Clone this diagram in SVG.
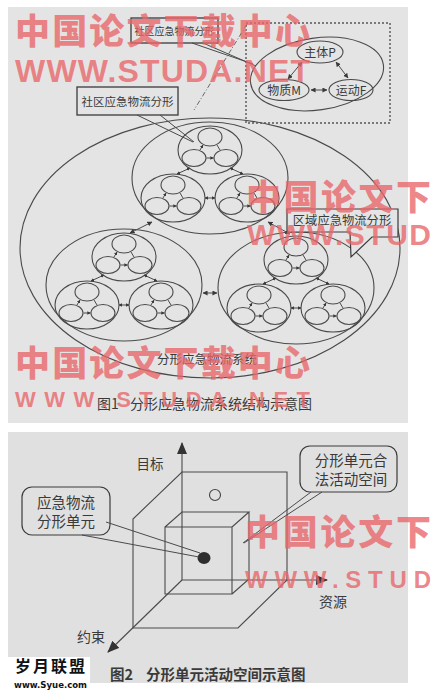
<svg xmlns="http://www.w3.org/2000/svg" width="431" height="695" viewBox="0 0 431 695">
<style>
.ln{fill:none;stroke:#4a4a4a;stroke-width:1.1}
.cn{fill:none;stroke:#4a4a4a;stroke-width:1}
.t{font-family:"Noto Sans CJK SC","Liberation Sans",sans-serif;fill:#3a3a3a}
.wm{font-family:"Noto Sans CJK SC","Liberation Sans",sans-serif;font-weight:900;fill:#e8666a;fill-opacity:0.78}
.wme{font-family:"Liberation Sans","DejaVu Sans",sans-serif;font-weight:bold;fill:#e8666a;fill-opacity:0.78}
</style>
<defs>
<marker id="sa" viewBox="0 0 6 6" refX="5.5" refY="3" markerWidth="3.5" markerHeight="3.5" orient="auto-start-reverse"><path d="M0,0L6,3L0,6z" fill="#3a3a3a"/></marker>
<marker id="ma" viewBox="0 0 6 6" refX="5.5" refY="3" markerWidth="5" markerHeight="5" orient="auto-start-reverse"><path d="M0,0L6,3L0,6z" fill="#3a3a3a"/></marker>
<marker id="big" viewBox="0 0 12 10" refX="11" refY="5" markerUnits="userSpaceOnUse" markerWidth="12" markerHeight="10" orient="auto"><path d="M0,0L12,5L0,10z" fill="#333"/></marker>
<g id="comm">
<ellipse class="ln" rx="32" ry="24"/>
<ellipse class="ln" cy="-13" rx="12" ry="9"/>
<ellipse class="ln" cx="-16" cy="8" rx="12" ry="8.5"/>
<ellipse class="ln" cx="16" cy="8" rx="12" ry="8.5"/>
<path class="cn" d="M-7,-5L-10,0M7,-5L10,0M-3.5,8H3.5" marker-start="url(#sa)" marker-end="url(#sa)"/>
</g>
<g id="reg">
<ellipse class="ln" rx="78" ry="56"/>
<use href="#comm" y="-28"/>
<use href="#comm" x="-37" y="20"/>
<use href="#comm" x="37" y="20"/>
<g class="cn" marker-start="url(#sa)" marker-end="url(#sa)">
<path d="M-20,-10L-33,-4"/><path d="M20,-10L33,-4"/><path d="M-5,20H5"/>
</g>
</g>
</defs>

<rect width="431" height="695" fill="#ffffff"/>
<rect x="8" y="7" width="400" height="416" fill="#e4e4e4"/>
<rect x="8" y="432" width="400" height="251" fill="#e0e0e0"/>

<!-- Figure 1 -->
<g id="system">
<ellipse class="ln" cx="210" cy="248" rx="190" ry="130"/>
<text class="t" x="207" y="364" font-size="12.5" text-anchor="middle">分形应急物流系统</text>
</g>
<g id="region-top"><use href="#reg" x="210" y="178"/></g>
<g id="region-left"><use href="#reg" x="124" y="285"/></g>
<g id="region-right"><use href="#reg" x="296" y="288"/></g>

<g id="inset">
<rect x="246" y="23" width="144" height="100" fill="none" stroke="#555" stroke-width="1.4" stroke-dasharray="2 2"/>
<ellipse class="ln" cx="317" cy="74" rx="67" ry="36" transform="rotate(-8 317 74)"/>
<g id="node-P"><ellipse class="ln" cx="320" cy="52" rx="23" ry="11"/><text class="t" x="320" y="56.5" font-size="12" text-anchor="middle">主体P</text></g>
<g id="node-M"><ellipse class="ln" cx="284" cy="90" rx="25" ry="10.5"/><text class="t" x="284" y="94.5" font-size="12" text-anchor="middle">物质M</text></g>
<g id="node-F"><ellipse class="ln" cx="351" cy="90" rx="22" ry="10.5"/><text class="t" x="351" y="94.5" font-size="12" text-anchor="middle">运动F</text></g>
</g>

<g id="label-community-1">
<rect x="131" y="18" width="87" height="25" fill="#e4e4e4" stroke="#3a3a3a" stroke-width="1.3"/>
<text class="t" x="174.5" y="34.5" font-size="10" text-anchor="middle">社区应急物流分形</text>
</g>
<g id="label-community-2">
<rect x="77" y="87" width="101" height="28" fill="#e4e4e4" stroke="#3a3a3a" stroke-width="1.3"/>
<text class="t" x="127.5" y="105.5" font-size="11.5" text-anchor="middle">社区应急物流分形</text>
</g>
<g id="label-region">
<path d="M287,209H398V237H372L351,257L350,232H287Z" fill="#e4e4e4" stroke="#3a3a3a" stroke-width="1.2"/>
<text class="t" x="342" y="225" font-size="12.3" text-anchor="middle">区域应急物流分形</text>
</g>

<g id="connectors">
<g class="cn" marker-start="url(#ma)" marker-end="url(#ma)">
<path d="M152,222L130,233"/>
<path d="M268,222L290,234"/>
<path d="M203,293H217"/>
<path d="M288,79L302,62"/>
<path d="M336,62L348,78"/>
<path d="M311,90H327"/>
</g>
<path class="cn" d="M192,43L253,64M203,43L256,66"/>
<path class="cn" d="M137,115L193,142M160,115L194,142"/>
<path d="M247,24L194,110" fill="none" stroke="#666" stroke-width="1" stroke-dasharray="5 2 1 2"/>
</g>

<text class="t" x="97" y="409" font-size="14" fill="#333"><tspan>图1</tspan><tspan x="130">分形应急物流系统结构示意图</tspan></text>

<!-- Figure 2 -->
<g id="outer-space">
<path class="ln" d="M182,472H287V580L238,628H133V519Z"/>
<circle cx="215" cy="495" r="5.5" fill="none" stroke="#444" stroke-width="1.1"/>
</g>
<g id="inner-box">
<path class="ln" d="M165,527H232V594H165Z M165,527L182,512H249L232,527 M249,512V579L232,594"/>
<ellipse cx="204" cy="558" rx="6.5" ry="6" fill="#2e2e2e"/>
</g>
<g id="axes">
<path class="ln" d="M182,580V443" stroke-width="1.3" marker-end="url(#big)"/>
<path class="ln" d="M182,580H327" stroke-width="1.3" marker-end="url(#big)"/>
<path class="ln" d="M182,580L108,652" stroke-width="1.3" marker-end="url(#big)"/>
<text class="t" x="150" y="469" font-size="13.5" text-anchor="middle">目标</text>
<text class="t" x="333" y="607" font-size="14" text-anchor="middle">资源</text>
<text class="t" x="91" y="642" font-size="14" text-anchor="middle">约束</text>
</g>
<g id="callout-unit">
<rect x="22" y="487" width="88" height="48" rx="10" fill="#e0e0e0" stroke="#3a3a3a" stroke-width="1.2"/>
<text class="t" x="66" y="508" font-size="14.5" text-anchor="middle">应急物流</text>
<text class="t" x="66" y="527" font-size="14.5" text-anchor="middle">分形单元</text>
<path class="cn" d="M106,522L200,553M82,535L199,557"/>
</g>
<g id="callout-space">
<rect x="300" y="446" width="97" height="46" rx="10" fill="#e0e0e0" stroke="#3a3a3a" stroke-width="1.2"/>
<text class="t" x="351" y="466" font-size="14.5" text-anchor="middle">分形单元合</text>
<text class="t" x="351" y="485" font-size="14.5" text-anchor="middle">法活动空间</text>
<path class="cn" d="M311,492L243,543M322,492L244,543"/>
</g>
<text class="t" x="110" y="680" font-size="14.5" fill="#2a2a2a" font-weight="bold"><tspan>图2</tspan><tspan x="146">分形单元活动空间示意图</tspan></text>

<!-- watermarks -->
<g id="watermarks">
<text class="wm" x="15" y="44" font-size="35" textLength="295" lengthAdjust="spacing">中国论文下载中心</text>
<text class="wme" x="15" y="82" font-size="32" textLength="295" lengthAdjust="spacing">WWW.STUDA.NET</text>
<text class="wm" x="246" y="210" font-size="35" textLength="185" lengthAdjust="spacing">中国论文下</text>
<text class="wme" x="247" y="245" font-size="30" textLength="184" lengthAdjust="spacing">WWW.STUD</text>
<text class="wm" x="15" y="376" font-size="35" textLength="295" lengthAdjust="spacing">中国论文下载中心</text>
<text class="wme" x="15" y="407" font-size="22" textLength="295" lengthAdjust="spacing">WWW.STUDA.NET</text>
<text class="wm" x="245" y="545" font-size="35" textLength="186" lengthAdjust="spacing">中国论文下</text>
<text class="wme" x="245" y="588" font-size="24" textLength="186" lengthAdjust="spacing">WWW.STUD</text>
</g>

<g id="logo">
<rect x="0" y="657" width="90" height="38" fill="#ffffff"/>
<text x="15" y="672" font-size="16" font-weight="bold" fill="#111" font-family="'Noto Sans CJK SC',sans-serif" textLength="70" lengthAdjust="spacing">岁月联盟</text>
<text x="14" y="688" font-size="9" font-weight="bold" fill="#111" font-family="'DejaVu Sans',sans-serif" textLength="73" lengthAdjust="spacingAndGlyphs">www.Syue.com</text>
</g>
</svg>
